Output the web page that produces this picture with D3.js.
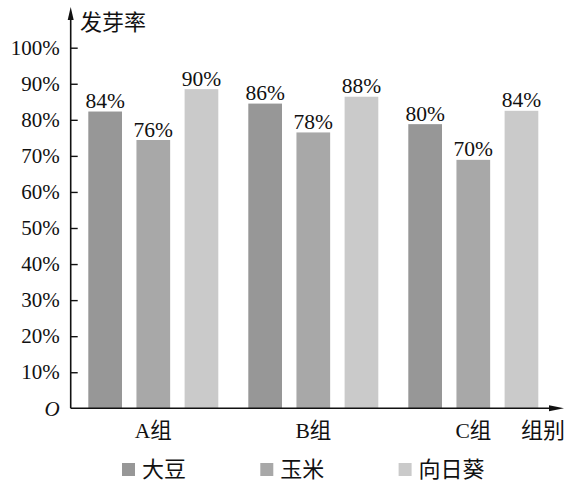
<!DOCTYPE html>
<html><head><meta charset="utf-8">
<script src="https://cdn.jsdelivr.net/npm/d3@7"></script>
<style>
body{margin:0;background:#fff;}
svg text{font-family:"Liberation Serif","Noto Sans CJK SC",serif;fill:#111;}
</style></head>
<body><svg id="c" width="570" height="487"></svg>
<script>
const groups = ["A组", "B组", "C组"];
const series = ["大豆", "玉米", "向日葵"];
const colors = ["#979797", "#a8a8a8", "#cacaca"];
// bar heights as drawn (percent)
const soybean = [82.3, 84.5, 78.8];
const corn = [74.4, 76.5, 68.9];
const sunflower = [88.5, 86.4, 82.5];
// printed value labels
const soybeanLabels = ["84%", "86%", "80%"];
const cornLabels = ["76%", "78%", "70%"];
const sunflowerLabels = ["90%", "88%", "84%"];
const yTicks = [0, 10, 20, 30, 40, 50, 60, 70, 80, 90, 100];
const yTitle = "发芽率";
const xTitle = "组别";

const values = [soybean, corn, sunflower];
const labels = [soybeanLabels, cornLabels, sunflowerLabels];

const svg = d3.select("#c");
const axisX = 70.7, baseY = 408.3;

const x0 = d3.scaleBand().domain(groups).range([88.3, 538.3]).paddingInner(0.1875).paddingOuter(0);
const x1 = d3.scaleBand().domain(series).range([0, x0.bandwidth()]).paddingInner(0.3).paddingOuter(0);
const y = d3.scaleLinear().domain([0, 100]).range([baseY, 47.7]);

// bars
const data = [];
groups.forEach((g, gi) => series.forEach((s, si) => data.push({g, s, si, v: values[si][gi], lab: labels[si][gi]})));

svg.append("g").selectAll("rect").data(data).join("rect")
  .attr("x", d => x0(d.g) + x1(d.s))
  .attr("y", d => y(d.v))
  .attr("width", x1.bandwidth())
  .attr("height", d => y(0) - y(d.v))
  .attr("fill", d => colors[d.si]);

svg.append("g").selectAll("text").data(data).join("text")
  .attr("x", d => x0(d.g) + x1(d.s) + x1.bandwidth() / 2)
  .attr("y", d => y(d.v) - 3.5)
  .attr("text-anchor", "middle")
  .attr("font-size", 21.5)
  .text(d => d.lab);

// y axis
const yAxis = d3.axisLeft(y).tickValues(yTicks).tickSizeInner(-7).tickSizeOuter(0).tickPadding(11)
  .tickFormat(d => d === 0 ? "O" : d + "%");
const yg = svg.append("g").attr("transform", `translate(${axisX},0)`).call(yAxis);
yg.select(".domain").remove();
yg.selectAll(".tick line").attr("stroke", "#111").attr("stroke-width", 1.4);
yg.selectAll(".tick text").attr("font-size", 21).attr("fill", "#111")
  .style("font-family", '"Liberation Serif",serif');
yg.selectAll(".tick").filter(d => d === 0).select("line").remove();
yg.selectAll(".tick").filter(d => d === 0).select("text").attr("font-style", "italic").attr("dy", "0.32em");

// axes lines with arrows
svg.append("line").attr("x1", axisX).attr("y1", baseY).attr("x2", axisX).attr("y2", 18)
  .attr("stroke", "#111").attr("stroke-width", 1.6);
svg.append("path").attr("d", `M${axisX},7 L${axisX - 3},20 L${axisX + 3},20 Z`).attr("fill", "#111");
svg.append("line").attr("x1", axisX).attr("y1", baseY).attr("x2", 552).attr("y2", baseY)
  .attr("stroke", "#111").attr("stroke-width", 1.6);
svg.append("path").attr("d", `M564,${baseY} L549,${baseY - 3} L549,${baseY + 3} Z`).attr("fill", "#111");

// titles
svg.append("text").attr("x", 80).attr("y", 30).attr("font-size", 22).text(yTitle);
svg.append("text").attr("x", 521).attr("y", 438).attr("font-size", 22).text(xTitle);

// group labels
svg.append("g").selectAll("text").data(groups).join("text")
  .attr("x", d => x0(d) + x0.bandwidth() / 2)
  .attr("y", 438)
  .attr("text-anchor", "middle")
  .attr("font-size", 21.5)
  .text(d => d);

// legend
const lg = svg.append("g").selectAll("g").data(series).join("g")
  .attr("transform", (d, i) => `translate(${122 + i * 138.3},463)`);
lg.append("rect").attr("width", 13).attr("height", 13).attr("fill", (d, i) => colors[i]);
lg.append("text").attr("x", 20).attr("y", 6.5).attr("dy", "0.36em").attr("font-size", 22).text(d => d);
</script></body></html>
